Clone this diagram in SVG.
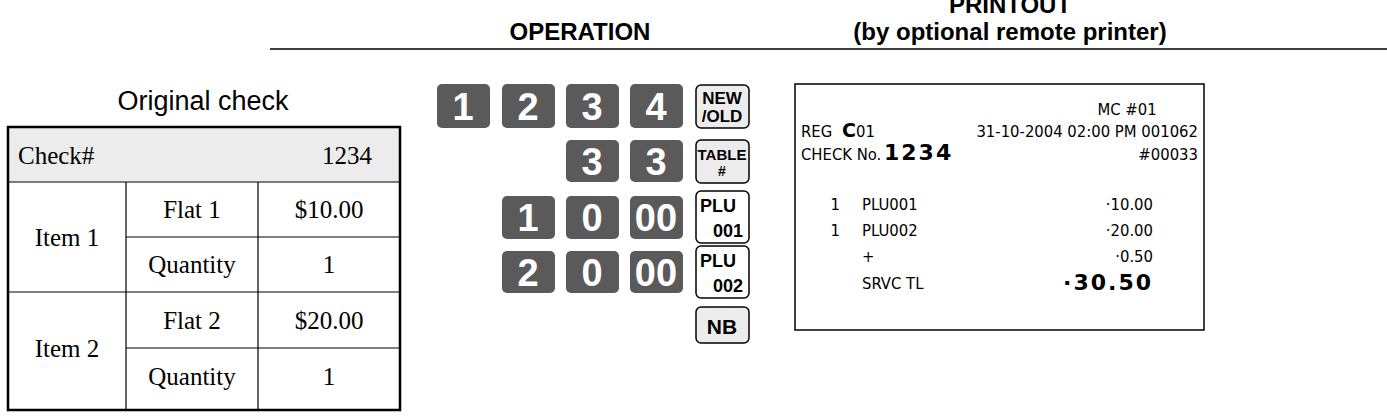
<svg xmlns="http://www.w3.org/2000/svg" width="1387" height="418" viewBox="0 0 1387 418">
<style>
.t{font-family:"Liberation Sans",Arial,sans-serif}
.s{font-family:"Liberation Serif","Times New Roman",serif;font-size:25px;fill:#000}
.k{fill:#5a5a5a}
.kt{font-family:"Liberation Sans",Arial,sans-serif;font-weight:bold;font-size:38px;fill:#fff;text-anchor:middle}
.f{fill:#fff;stroke:#000;stroke-width:1.5}
.fg{fill:#ececec;stroke:#000;stroke-width:1.5}
.ft{font-family:"Liberation Sans",Arial,sans-serif;font-weight:bold;fill:#000;text-anchor:middle}
.r{font-family:"DejaVu Sans Condensed","DejaVu Sans",sans-serif;font-size:16.5px;fill:#000}
.rb{font-family:"DejaVu Sans","Liberation Sans",sans-serif;font-size:22px;font-weight:bold;fill:#000;letter-spacing:2px}
</style>
<g id="headers">
<text class="t" x="580" y="40" font-size="24" font-weight="bold" text-anchor="middle">OPERATION</text>
<text class="t" x="1010" y="13" font-size="24" font-weight="bold" text-anchor="middle">PRINTOUT</text>
<text class="t" x="1010" y="40" font-size="24" font-weight="bold" text-anchor="middle">(by optional remote printer)</text>
<line x1="270" y1="49" x2="1387" y2="49" stroke="#000" stroke-width="1.5"/>
</g>
<g id="check-table">
<text class="t" x="203" y="110" font-size="27" text-anchor="middle">Original check</text>
<rect x="8" y="127" width="392" height="55" fill="#ececec"/>
<rect x="8" y="127" width="392" height="283" fill="none" stroke="#000" stroke-width="2.5"/>
<g stroke="#000" stroke-width="1.2">
<line x1="8" y1="182" x2="400" y2="182"/>
<line x1="126" y1="237" x2="400" y2="237"/>
<line x1="8" y1="292" x2="400" y2="292"/>
<line x1="126" y1="348" x2="400" y2="348"/>
<line x1="126" y1="182" x2="126" y2="410"/>
<line x1="258" y1="182" x2="258" y2="410"/>
</g>
<text class="s" x="18" y="164">Check#</text>
<text class="s" x="372" y="164" text-anchor="end">1234</text>
<text class="s" x="67" y="246" text-anchor="middle">Item 1</text>
<text class="s" x="192" y="218" text-anchor="middle">Flat 1</text>
<text class="s" x="329" y="218" text-anchor="middle">$10.00</text>
<text class="s" x="192" y="273" text-anchor="middle">Quantity</text>
<text class="s" x="329" y="273" text-anchor="middle">1</text>
<text class="s" x="67" y="357" text-anchor="middle">Item 2</text>
<text class="s" x="192" y="329" text-anchor="middle">Flat 2</text>
<text class="s" x="329" y="329" text-anchor="middle">$20.00</text>
<text class="s" x="192" y="385" text-anchor="middle">Quantity</text>
<text class="s" x="329" y="385" text-anchor="middle">1</text>
</g>
<g id="keys">
<rect class="k" x="437" y="84" width="53" height="44" rx="5"/><text class="kt" x="463" y="120">1</text>
<rect class="k" x="502" y="84" width="53" height="44" rx="5"/><text class="kt" x="528" y="120">2</text>
<rect class="k" x="566" y="84" width="53" height="44" rx="5"/><text class="kt" x="592" y="120">3</text>
<rect class="k" x="630" y="84" width="53" height="44" rx="5"/><text class="kt" x="656" y="120">4</text>
<rect class="fg" x="696" y="85" width="53" height="43" rx="5"/>
<text class="ft" x="722" y="104" font-size="17">NEW</text><text class="ft" x="722" y="122" font-size="17">/OLD</text>
<rect class="k" x="566" y="140" width="53" height="42" rx="5"/><text class="kt" x="592" y="175">3</text>
<rect class="k" x="630" y="140" width="53" height="42" rx="5"/><text class="kt" x="656" y="175">3</text>
<rect class="fg" x="696" y="140" width="53" height="43" rx="5"/>
<text class="ft" x="722" y="160" font-size="15">TABLE</text><text class="ft" x="722" y="176" font-size="14">#</text>
<rect class="k" x="502" y="196" width="53" height="43" rx="5"/><text class="kt" x="528" y="231">1</text>
<rect class="k" x="566" y="196" width="53" height="43" rx="5"/><text class="kt" x="592" y="231">0</text>
<rect class="k" x="630" y="196" width="53" height="43" rx="5"/><text class="kt" x="656" y="231">00</text>
<rect class="f" x="696" y="191" width="53" height="52" rx="5"/>
<text class="ft" x="718" y="212" font-size="18">PLU</text><text class="ft" x="728" y="237" font-size="18">001</text>
<rect class="k" x="502" y="251" width="53" height="42" rx="5"/><text class="kt" x="528" y="286">2</text>
<rect class="k" x="566" y="251" width="53" height="42" rx="5"/><text class="kt" x="592" y="286">0</text>
<rect class="k" x="630" y="251" width="53" height="42" rx="5"/><text class="kt" x="656" y="286">00</text>
<rect class="f" x="696" y="246" width="53" height="52" rx="5"/>
<text class="ft" x="718" y="267" font-size="18">PLU</text><text class="ft" x="728" y="292" font-size="18">002</text>
<rect class="fg" x="696" y="307" width="53" height="36" rx="5"/>
<text class="ft" x="722" y="334" font-size="21">NB</text>
</g>
<g id="printout">
<rect x="795" y="84" width="409" height="246" fill="#fff" stroke="#000" stroke-width="1.5"/>
<text class="r" x="1127" y="115" text-anchor="middle">MC #01</text>
<text class="r" x="801" y="137">REG</text>
<text class="r" x="842" y="137"><tspan font-family="DejaVu Sans" font-weight="bold" font-size="19">C</tspan>01</text>
<text class="r" x="1198" y="137" text-anchor="end">31-10-2004 02:00 PM 001062</text>
<text class="r" x="801" y="160">CHECK No.</text>
<text class="rb" x="884" y="160" font-size="21">1234</text>
<text class="r" x="1198" y="160" text-anchor="end">#00033</text>
<text class="r" x="840" y="210" text-anchor="end">1</text><text class="r" x="862" y="210">PLU001</text><text class="r" x="1153" y="210" text-anchor="end">·10.00</text>
<text class="r" x="840" y="236" text-anchor="end">1</text><text class="r" x="862" y="236">PLU002</text><text class="r" x="1153" y="236" text-anchor="end">·20.00</text>
<text class="r" x="862" y="262">+</text><text class="r" x="1153" y="262" text-anchor="end">·0.50</text>
<text class="r" x="862" y="289">SRVC TL</text><text class="rb" x="1153" y="290" text-anchor="end">·30.50</text>
</g>
</svg>
